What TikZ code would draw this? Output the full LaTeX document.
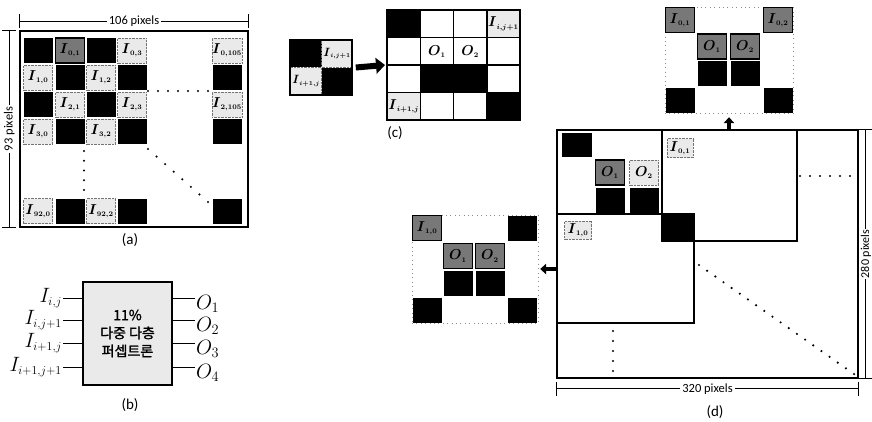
\documentclass[tikz,border=0pt]{standalone}
\usepackage{amsmath,amssymb}
\usepackage{fontspec}
\setmainfont{Carlito}
\newfontfamily\kr[FakeBold=1.6]{Noto Sans CJK KR}
\usetikzlibrary{arrows.meta}
\definecolor{pixL}{RGB}{234,234,234}
\definecolor{pixD}{RGB}{120,120,120}
\newcommand{\ipx}[1]{$\boldsymbol{I}_{\scriptscriptstyle\boldsymbol{#1}}$}
\newcommand{\opx}[1]{$\boldsymbol{O}_{\scriptscriptstyle\boldsymbol{#1}}$}
\tikzset{
  cell/.style={minimum width=29pt,minimum height=25pt,inner sep=0pt,font=\fontsize{15}{15}\selectfont},
  blk/.style={cell,fill=black},
  lpx/.style={cell,fill=pixL,draw=black!55,densely dotted},
  dpx/.style={cell,fill=pixD,draw=black,line width=1.2pt},
  gcell/.style={minimum width=33.25pt,minimum height=27.5pt,inner sep=0pt,draw=black,line width=1.5pt,font=\fontsize{14}{14}\selectfont},
  boxline/.style={draw=black,line width=1.6pt,inner sep=0pt},
  dimbar/.style={line width=0.8pt,{Bar[width=14pt]}-{Bar[width=14pt]}},
  dimtxt/.style={fill=white,inner sep=2pt,font=\fontsize{12.5}{12.5}\selectfont},
  figlbl/.style={font=\fontsize{15}{15}\selectfont},
  fatarrow/.style={line width=#1,-{Triangle[length=1.5*#1,width=2.6*#1]}},
}
\begin{document}
\begin{tikzpicture}[x=1pt,y=-1pt]
\useasboundingbox (0,0) rectangle (872,421);
% ---- (a) input image
\node[boxline,minimum width=228pt,minimum height=196pt] (aframe) at (134,129) {};
\draw[dimbar] ([yshift=9pt]aframe.north west) -- node[dimtxt]{106 pixels} ([yshift=9pt]aframe.north east);
\draw[dimbar] ([xshift=-10pt]aframe.south west) -- node[dimtxt,rotate=90]{93 pixels} ([xshift=-10pt]aframe.north west);
\foreach \n/\x/\y in {00/38/50.5,02/101/50.5,11/70/77.5,13/132/77.5,1e/227/77.5,20/38/104.5,22/101/104.5,
  31/70/131.5,33/132/131.5,3e/227/131.5,91/70/211,93/132/211,9e/227/211}
  \node[blk] (a\n) at (\x,\y) {};
\node[dpx] (a01) at (70,50.5) {\ipx{0,1}};
\foreach \n/\x/\y/\t in {03/132/50.5/{0,3},0e/227/50.5/{0,105},10/38/77.5/{1,0},12/101/77.5/{1,2},
  21/70/104.5/{2,1},23/132/104.5/{2,3},2e/227/104.5/{2,105},30/38/131.5/{3,0},32/101/131.5/{3,2},
  90/38/211/{92,0},92/101/211/{92,2}}
  \node[lpx] (a\n) at (\x,\y) {\ipx{\t}};
\foreach \i in {0,...,6} \fill ({148+10*\i},91) circle (1.2pt);
\foreach \i in {0,...,4} \fill (84,{151+9.75*\i}) circle (1.2pt);
\foreach \i in {0,...,7} \fill ({148+8.57*\i},{149+7.57*\i}) circle (1.2pt);
\node[figlbl] (alab) at (130,240) {(a)};
% ---- (b) perceptron block
\node[boxline,line width=2pt,fill=pixL,minimum width=89pt,minimum height=103pt,align=center,
  font=\kr\fontsize{14}{18}\selectfont] (mlp) at (127.5,333.5) {11\%\\다중 다층\\퍼셉트론};
\foreach \k/\y/\t in {1/298/{i,j},2/320/{i,j+1},3/343/{i+1,j},4/367/{i+1,j+1}} {
  \node[anchor=east,inner sep=1pt,font=\huge] (bi\k) at (63,\y) {$I_{\scriptscriptstyle\t}$};
  \draw[line width=0.9pt] (bi\k.east) -- (bi\k.east -| mlp.west);
  \coordinate (oc\k) at (195,\y);
  \draw[line width=0.9pt] (oc\k -| mlp.east) -- (oc\k);
  \node[anchor=west,inner sep=1pt,yshift=-6pt,font=\huge] (bo\k) at (oc\k) {$O_\k$};
}
\node[figlbl] (blab) at (130,405) {(b)};
% ---- (c) one window to the 4x4 pattern
\node[blk,minimum width=31pt,minimum height=27pt] (c11) at (306,53.5) {};
\node[lpx,minimum width=31pt,minimum height=27pt,font=\large] (c12) at (337,53.5) {\ipx{i,j+1}};
\node[lpx,minimum width=31pt,minimum height=27pt,font=\large] (c21) at (306,81) {\ipx{i+1,j}};
\node[blk,minimum width=31pt,minimum height=27pt] (c22) at (337,81) {};
\node[boxline,minimum width=62pt,minimum height=55pt] (cin) at (321,67.5) {};
\foreach \r/\c in {0/0,2/1,2/2,3/3}
  \node[gcell,fill=black] (g\r\c) at ({387+33.25*(\c+0.5)},{10+27.5*(\r+0.5)}) {};
\foreach \r/\c in {0/1,0/2,1/0,1/3,2/0,2/3,3/1,3/2}
  \node[gcell,fill=white] (g\r\c) at ({387+33.25*(\c+0.5)},{10+27.5*(\r+0.5)}) {};
\node[gcell,fill=pixL] (g03) at ({387+33.25*3.5},{10+27.5*0.5}) {\ipx{i,j+1}};
\node[gcell,fill=white] (g11) at ({387+33.25*1.5},{10+27.5*1.5}) {\opx{1}};
\node[gcell,fill=white] (g12) at ({387+33.25*2.5},{10+27.5*1.5}) {\opx{2}};
\node[gcell,fill=pixL] (g30) at ({387+33.25*0.5},{10+27.5*3.5}) {\ipx{i+1,j}};
\node[boxline,line width=2pt,minimum width=133pt,minimum height=110pt] (cgrid) at (453.5,65) {};
\draw[fatarrow=6pt] ([xshift=3pt]cin.east) -- ([xshift=-1pt]cgrid.west);
\node[figlbl] (clab) at (395,133) {(c)};
% ---- (d) 320x280 image split into windows
\node[boxline,minimum width=301pt,minimum height=248pt] (dbig) at (707.5,254) {};
\node[boxline,minimum width=105pt,minimum height=84pt] (dA) at (609.5,172) {};
\node[boxline,minimum width=135pt,minimum height=111pt] (dB) at (729.5,185.5) {};
\node[boxline,minimum width=137pt,minimum height=109pt] (dC) at (625.5,268.5) {};
\node[blk,minimum width=30pt,minimum height=24pt] (dA1) at (577,145) {};
\node[dpx] (dA2) at (610,172.5) {\opx{1}};
\node[lpx] (dA3) at (644,172.5) {\opx{2}};
\node[blk] (dA4) at (610,200) {};
\node[blk] (dA5) at (644,200) {};
\node[blk,minimum width=34pt,minimum height=28pt] (dX) at (678,228) {};
\node[lpx,minimum width=26pt,minimum height=19pt] (dB1) at (680,148) {\ipx{0,1}};
\node[lpx,minimum width=27pt,minimum height=18pt] (dC1) at (578,230) {\ipx{1,0}};
\draw[dimbar] ([yshift=-10pt]dbig.south west) -- node[dimtxt]{320 pixels} ([yshift=-10pt]dbig.south east);
\draw[dimbar] ([xshift=7pt]dbig.south east) -- node[dimtxt,inner sep=0.6pt,rotate=90,font=\fontsize{12}{12}\selectfont]{280 pixels} ([xshift=7pt]dbig.north east);
\foreach \i in {0,...,5} \fill ({800+10*\i},176) circle (1.2pt);
\foreach \i in {0,...,19} \fill ({699+8.16*\i},{265+5.74*\i}) circle (1.2pt);
\foreach \i in {0,...,4} \fill (613,{331+10*\i}) circle (1.2pt);
% upper window pattern
\node[draw=black!45,loosely dotted,minimum width=128pt,minimum height=106pt] (dup) at (729,60) {};
\node[dpx] (u1) at (680,20) {\ipx{0,1}};
\node[dpx] (u2) at (778,20) {\ipx{0,2}};
\node[dpx] (u3) at (712,46.5) {\opx{1}};
\node[dpx] (u4) at (745,46.5) {\opx{2}};
\foreach \n/\x/\y in {5/712/73.5,6/745/73.5,7/680/100.5,8/778/100.5}
  \node[blk] (u\n) at (\x,\y) {};
\draw[fatarrow=4pt] (dup.south |- dbig.north) -- ([yshift=-4pt]dup.south);
% left window pattern
\node[draw=black!45,loosely dotted,minimum width=126pt,minimum height=108pt] (dleft) at (475,269) {};
\node[dpx] (l1) at (427,228) {\ipx{1,0}};
\node[dpx] (l3) at (458,256) {\opx{1}};
\node[dpx] (l4) at (490,256) {\opx{2}};
\foreach \n/\x/\y in {2/522/228,5/458/283,6/490/283,7/427/310,8/522/310}
  \node[blk] (l\n) at (\x,\y) {};
\draw[fatarrow=4pt] (dleft.east -| dbig.west) -- ([xshift=2pt]dleft.east);
\node[figlbl] (dlab) at (715,412) {(d)};
\end{tikzpicture}
\end{document}
